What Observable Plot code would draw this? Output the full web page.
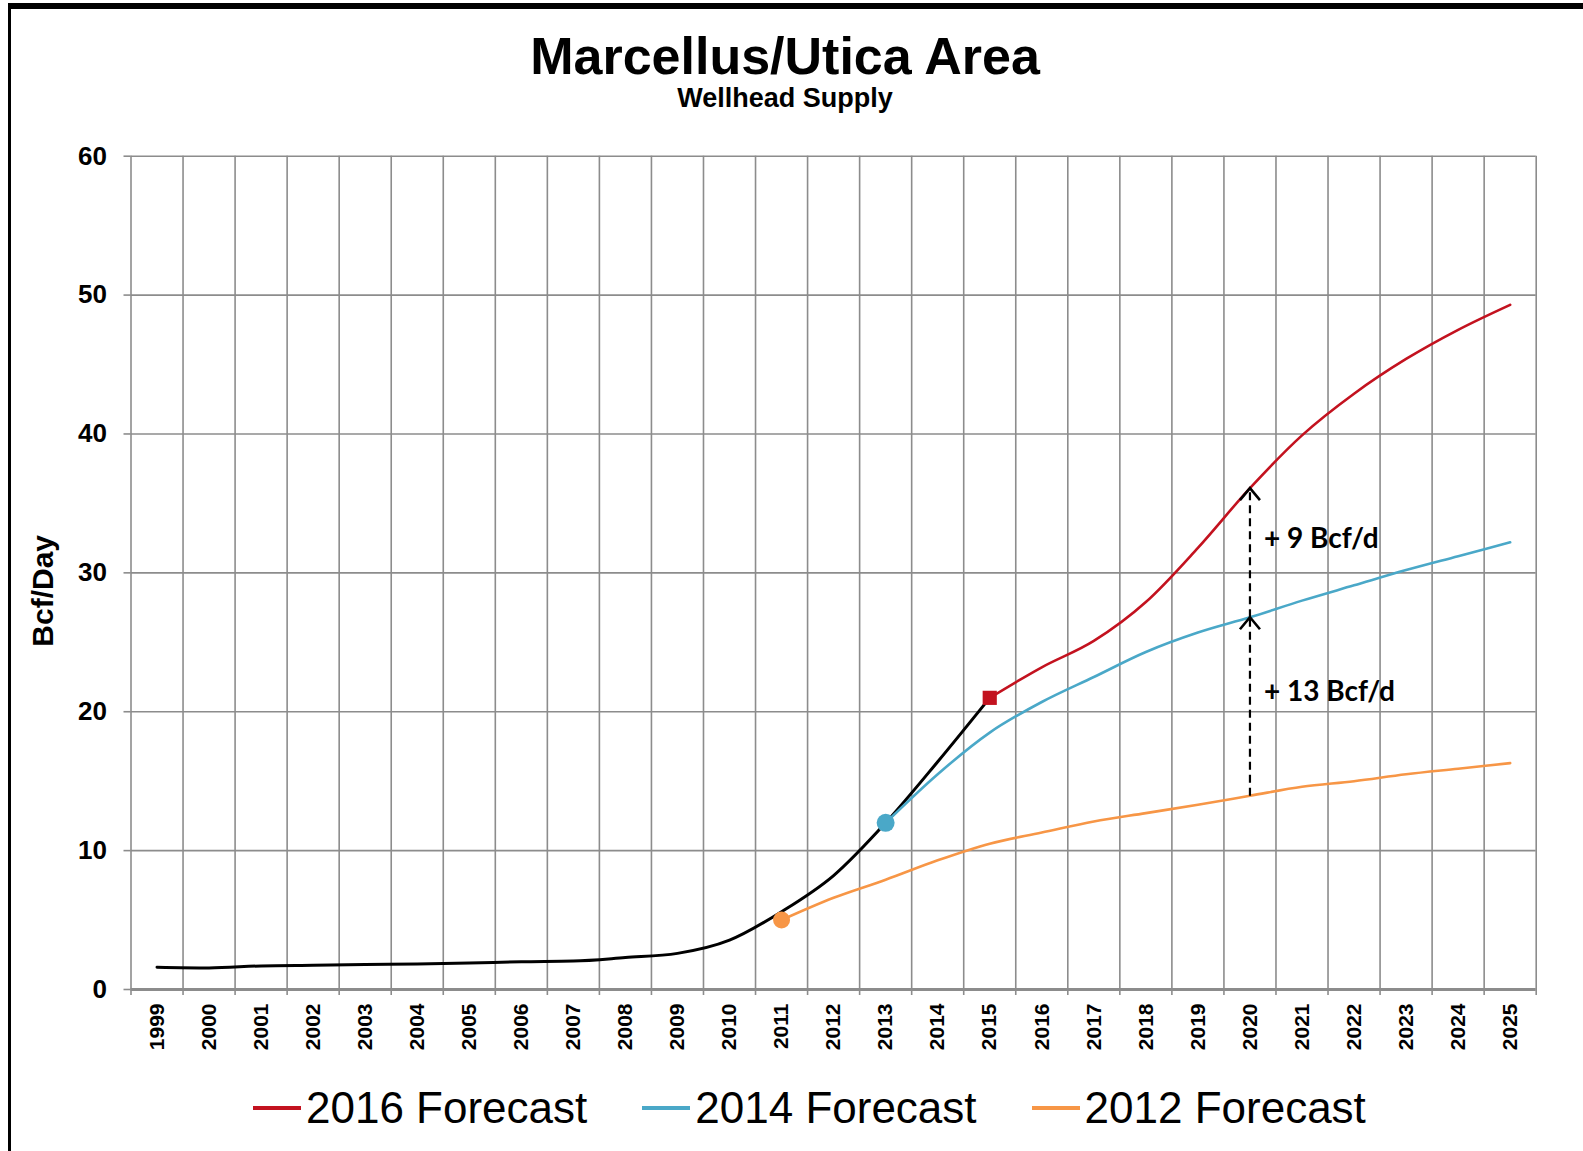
<!DOCTYPE html>
<html>
<head>
<meta charset="utf-8">
<script src="https://cdn.jsdelivr.net/npm/d3@7"></script>
<script src="https://cdn.jsdelivr.net/npm/@observablehq/plot@0.6"></script>
<style>
  html, body { margin: 0; padding: 0; background: #fff; }
  #wrap { position: relative; width: 1583px; height: 1151px; overflow: hidden; background: #fff;
          font-family: Arial, "Liberation Sans", sans-serif; color: #000; }
  #frame { position: absolute; left: 8px; top: 3px; right: -20px; bottom: -20px;
           border-top: 6px solid #000; border-left: 3px solid #000; pointer-events: none; }
  #title { position: absolute; left: 0; width: 1570px; top: 30px; text-align: center;
           font-size: 52px; line-height: 52px; font-weight: bold; }
  #subtitle { position: absolute; left: 0; width: 1570px; top: 85px; text-align: center;
              font-size: 27px; line-height: 27px; font-weight: bold; }
  #chart { position: absolute; left: 0; top: 130px; }
  #legend { position: absolute; left: 253px; top: 1086px; display: flex; gap: 55px;
            font-size: 44px; line-height: 44px; }
  #legend .item { display: flex; align-items: center; white-space: nowrap; }
  #legend .sw { display: inline-block; width: 48px; height: 4px; margin-right: 5px; }
</style>
</head>
<body>
<div id="wrap">
  <div id="title">Marcellus/Utica Area</div>
  <div id="subtitle">Wellhead Supply</div>
  <div id="chart"></div>
  <div id="legend"></div>
  <div id="frame"></div>
</div>
<script>
// ---- data ----
const years = [1999,2000,2001,2002,2003,2004,2005,2006,2007,2008,2009,2010,2011,2012,
               2013,2014,2015,2016,2017,2018,2019,2020,2021,2022,2023,2024,2025];
const yTicks = [0,10,20,30,40,50,60];

const historyYears = [1999,2000,2001,2002,2003,2004,2005,2006,2007,2008,2009,2010,2011,2012,2013,2014,2015];
const historyValues = [1.6,1.55,1.7,1.75,1.8,1.83,1.9,2.0,2.05,2.3,2.6,3.55,5.6,8.2,12.0,16.4,21.0];

const f2016Years = [2015,2016,2017,2018,2019,2020,2021,2022,2023,2024,2025];
const f2016Values = [21.0,23.2,25.1,27.9,31.8,36.1,39.9,42.9,45.4,47.5,49.3];

const f2014Years = [2013,2014,2015,2016,2017,2018,2019,2020,2021,2022,2023,2024,2025];
const f2014Values = [12.0,15.5,18.5,20.7,22.5,24.3,25.7,26.8,28.0,29.1,30.2,31.2,32.2];

const f2012Years = [2011,2012,2013,2014,2015,2016,2017,2018,2019,2020,2021,2022,2023,2024,2025];
const f2012Values = [5.0,6.6,7.9,9.3,10.5,11.3,12.1,12.7,13.3,13.95,14.6,15.0,15.5,15.9,16.3];

const seriesNames = ["2016 Forecast", "2014 Forecast", "2012 Forecast"];
const seriesColors = ["#c3121f", "#4aa8c8", "#f79646"];

const annotationYear = [2020];
const annotationTexts = ["+ 9 Bcf/d", "+ 13 Bcf/d"];

// ---- build tables ----
const toRows = (ys, vs) => ys.map((y, i) => ({year: y, value: vs[i]}));
const history = toRows(historyYears, historyValues);
const f2016 = toRows(f2016Years, f2016Values);
const f2014 = toRows(f2014Years, f2014Values);
const f2012 = toRows(f2012Years, f2012Values);
const boundaries = [years[0] - 0.5, ...years.map(y => y + 0.5)];

const at = (rows, yr) => rows.find(r => r.year === yr).value;
const ay = annotationYear[0];
const vO = at(f2012, ay), vC = at(f2014, ay), vR = at(f2016, ay);
const arrows = [
  {year: ay, y1: vC, y2: vR, label: annotationTexts[0]},
  {year: ay, y1: vO, y2: vC, label: annotationTexts[1]}
];

const grid = "#8c8c8c";
const chevron = {
  draw(ctx, size) {
    const r = Math.sqrt(size / Math.PI);
    ctx.moveTo(-r, 1.2 * r);
    ctx.lineTo(0, 0);
    ctx.lineTo(r, 1.2 * r);
  }
};

const chart = Plot.plot({
  width: 1583,
  height: 929,
  marginLeft: 130.5,
  marginRight: 47.3,
  marginTop: 25.7,
  marginBottom: 70,
  x: {type: "linear", domain: [years[0] - 0.5, years[years.length - 1] + 0.5]},
  y: {domain: [0, 60]},
  style: {fontFamily: "Arial, 'Liberation Sans', sans-serif", background: "white", color: "#000", overflow: "visible"},
  marks: [
    Plot.ruleY(yTicks.filter(d => d > 0), {stroke: grid, strokeWidth: 1.6}),
    Plot.ruleX(boundaries, {stroke: grid, strokeWidth: 1.6}),
    Plot.axisY(yTicks, {tickSize: 7, tickPadding: 17, fontSize: 26, fontWeight: "bold",
                        stroke: grid, strokeWidth: 1.6, fill: "#000", label: null}),
    Plot.axisX(boundaries, {tickSize: 6, tickFormat: () => "", stroke: grid, strokeWidth: 1.6, label: null}),
    Plot.axisX(years, {tickSize: 0, tickPadding: 14, tickRotate: -90, tickFormat: d => String(d),
                       fontSize: 21, fontWeight: "bold", fill: "#000", label: null}),
    Plot.ruleY([0], {stroke: grid, strokeWidth: 3}),
    Plot.text(["Bcf/Day"], {frameAnchor: "left", dx: -88, dy: 18, rotate: -90, fontSize: 30,
                            fontWeight: "bold", textAnchor: "middle", lineAnchor: "middle", fill: "#000"}),
    Plot.line(history, {x: "year", y: "value", stroke: "#000", strokeWidth: 3, curve: "monotone-x"}),
    Plot.line(f2012, {x: "year", y: "value", stroke: seriesColors[2], strokeWidth: 2.6, curve: "monotone-x"}),
    Plot.line(f2014, {x: "year", y: "value", stroke: seriesColors[1], strokeWidth: 2.6, curve: "monotone-x"}),
    Plot.line(f2016, {x: "year", y: "value", stroke: seriesColors[0], strokeWidth: 2.6, curve: "monotone-x"}),
    Plot.link(arrows, {x1: "year", x2: "year", y1: "y1", y2: "y2", stroke: "#000",
                       strokeWidth: 2.2, strokeDasharray: "8,5"}),
    Plot.dot(arrows, {x: "year", y: "y2", symbol: chevron, r: 10, fill: "none", stroke: "#000", strokeWidth: 2.6}),
    Plot.text(arrows, {x: "year", y: d => (d.y1 + d.y2) / 2, text: "label", dx: 14, dy: -14,
                       textAnchor: "start", fontFamily: "Lato, 'Open Sans', sans-serif",
                       fontWeight: "bold", fontSize: 28, fill: "#000"}),
    Plot.dot([f2012[0]], {x: "year", y: "value", r: 8.5, fill: seriesColors[2]}),
    Plot.dot([f2014[0]], {x: "year", y: "value", r: 9, fill: seriesColors[1]}),
    Plot.dot([f2016[0]], {x: "year", y: "value", r: 8, symbol: "square", fill: seriesColors[0]})
  ]
});
document.getElementById("chart").appendChild(chart);

// legend
const legend = document.getElementById("legend");
seriesNames.forEach((name, i) => {
  const item = document.createElement("div");
  item.className = "item";
  const sw = document.createElement("span");
  sw.className = "sw";
  sw.style.background = seriesColors[i];
  item.appendChild(sw);
  item.appendChild(document.createTextNode(name));
  legend.appendChild(item);
});
</script>
</body>
</html>
